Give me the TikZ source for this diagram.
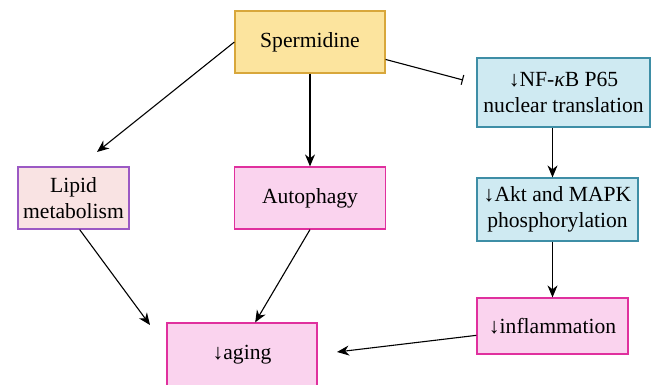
\documentclass[tikz,border=0pt]{standalone}
\usepackage{fontspec}
\setmainfont{Liberation Serif}
\usepackage{tikz}
\usetikzlibrary{arrows.meta,positioning}
\definecolor{yfill}{HTML}{FCE49E}
\definecolor{ydraw}{HTML}{D8A73B}
\definecolor{bfill}{HTML}{CFEAF2}
\definecolor{bdraw}{HTML}{3E8EA6}
\definecolor{lfill}{HTML}{F9E3E3}
\definecolor{ldraw}{HTML}{9B59C4}
\definecolor{pfill}{HTML}{FAD3EE}
\definecolor{pdraw}{HTML}{E0309E}

\begin{document}
\begin{tikzpicture}[x=0.5pt, y=-0.5pt,
    font=\fontsize{10.8}{13}\selectfont,
    box/.style={draw, line width=0.6pt, inner sep=0pt, align=center},
    yel/.style={box, fill=yfill, draw=ydraw},
    blu/.style={box, fill=bfill, draw=bdraw},
    lip/.style={box, fill=lfill, draw=ldraw},
    pnk/.style={box, fill=pfill, draw=pdraw},
    act/.style={line width=0.55pt, -{Stealth[length=6pt,width=5pt]}},
    inh/.style={line width=0.55pt, -{Bar[width=5pt]}}]
    \useasboundingbox (0,0) rectangle (658,385);
    \node[yel, minimum width=75pt, minimum height=31pt] (sperm) at (310,42) {Spermidine};
    \node[blu, minimum width=86.5pt, minimum height=34.5pt] (nfkb) at (563.5,92.5) {↓NF-{\itshape κ}B P65\\nuclear translation};
    \node[lip, minimum width=55.5pt, minimum height=31pt] (lipid) at (73.5,198) {Lipid\\metabolism};
    \node[pnk, minimum width=75.5pt, minimum height=31pt] (autoph) at (310,198) {Autophagy};
    \node[blu, minimum width=80.5pt, minimum height=31.5pt] (akt) at (557.5,209.5) {↓Akt and MAPK\\phosphorylation};
    \node[pnk, minimum width=75.5pt, minimum height=28pt] (inflam) at (552.5,326) {↓inflammation};
    \node[pnk, minimum width=75pt, minimum height=32pt] (aging) at (242,355) {↓aging};
    % free arrow ends
    \coordinate (lipidtip) at (97,152);
    \coordinate (agingtip) at (150,325);
    \coordinate (inflamtip) at (337,352);
    \coordinate (nfkbtip) at (463,80);
    \draw[act] (sperm.west) -- (lipidtip);
    \draw[act] (sperm.south) -- (autoph.north);
    \draw[inh] (sperm.-13.5) -- (nfkbtip);
    \draw[act] (nfkb.south -| inflam.north) -- (akt.north -| inflam.north);
    \draw[act] (akt.south -| inflam.north) -- (inflam.north);
    \draw[act] (lipid.-79) -- (agingtip);
    \draw[act] (autoph.south) -- (aging.68);
    \draw[act] (inflam.187) -- (inflamtip);
\end{tikzpicture}
\end{document}
